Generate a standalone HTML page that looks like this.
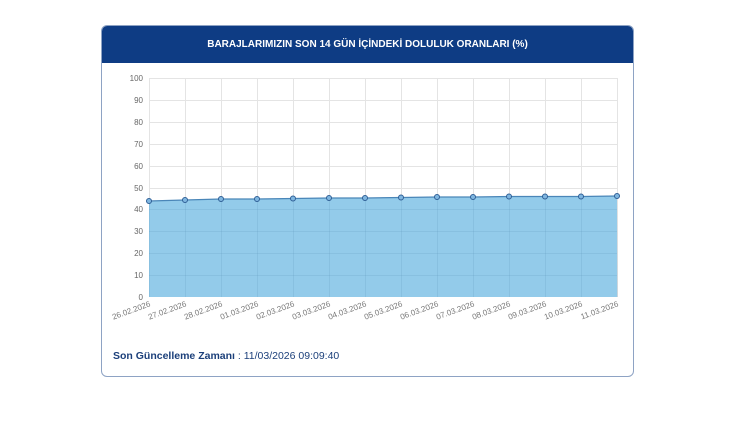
<!DOCTYPE html>
<html><head><meta charset="utf-8"><style>
body{margin:0;width:750px;height:421px;background:#fff;font-family:"Liberation Sans",sans-serif;position:relative;overflow:hidden}
.card{position:absolute;left:101px;top:25px;width:531px;height:350px;border:1px solid #8ea3c4;border-radius:6px;overflow:hidden}
.hdr{background:#0e3c84;height:37px;color:#fff;font-size:10px;font-weight:bold;text-align:center;line-height:37px}
.foot{position:absolute;left:113px;top:350px;font-size:10.5px;color:#1b3f7a}
</style></head><body>
<div class="card"><div class="hdr">BARAJLARIMIZIN SON 14 GÜN İÇİNDEKİ DOLULUK ORANLARI (%)</div></div>
<svg style="position:absolute;left:0;top:0" width="750" height="421" font-family="Liberation Sans,sans-serif">
<defs><g id="grid">
<line x1="149" x2="617" y1="78.5" y2="78.5"/><line x1="149" x2="617" y1="100.5" y2="100.5"/><line x1="149" x2="617" y1="122.5" y2="122.5"/><line x1="149" x2="617" y1="144.5" y2="144.5"/><line x1="149" x2="617" y1="166.5" y2="166.5"/><line x1="149" x2="617" y1="188.5" y2="188.5"/><line x1="149" x2="617" y1="209.5" y2="209.5"/><line x1="149" x2="617" y1="231.5" y2="231.5"/><line x1="149" x2="617" y1="253.5" y2="253.5"/><line x1="149" x2="617" y1="275.5" y2="275.5"/>
<line x1="149.5" x2="149.5" y1="78" y2="297"/><line x1="185.5" x2="185.5" y1="78" y2="297"/><line x1="221.5" x2="221.5" y1="78" y2="297"/><line x1="257.5" x2="257.5" y1="78" y2="297"/><line x1="293.5" x2="293.5" y1="78" y2="297"/><line x1="329.5" x2="329.5" y1="78" y2="297"/><line x1="365.5" x2="365.5" y1="78" y2="297"/><line x1="401.5" x2="401.5" y1="78" y2="297"/><line x1="437.5" x2="437.5" y1="78" y2="297"/><line x1="473.5" x2="473.5" y1="78" y2="297"/><line x1="509.5" x2="509.5" y1="78" y2="297"/><line x1="545.5" x2="545.5" y1="78" y2="297"/><line x1="581.5" x2="581.5" y1="78" y2="297"/><line x1="617.5" x2="617.5" y1="78" y2="297"/>
</g>
<clipPath id="fc"><polygon points="149,201 185,200 221,199 257,199 293,198.5 329,198 365,198 401,197.5 437,197 473,197 509,196.5 545,196.5 581,196.5 617,196 618,297 149,297"/></clipPath></defs>
<use href="#grid" stroke="#e4e4e4" stroke-width="1"/>
<polygon fill="#93cbea" points="149,201 185,200 221,199 257,199 293,198.5 329,198 365,198 401,197.5 437,197 473,197 509,196.5 545,196.5 581,196.5 617,196 617,297 149,297"/>
<use href="#grid" stroke="#5a8fb8" stroke-opacity="0.18" stroke-width="1" clip-path="url(#fc)"/>
<polyline fill="none" stroke="#4a86b8" stroke-width="1.2" points="149,201 185,200 221,199 257,199 293,198.5 329,198 365,198 401,197.5 437,197 473,197 509,196.5 545,196.5 581,196.5 617,196"/>
<g fill="#7fb6e0" stroke="#2f5f96" stroke-width="1">
<circle cx="149" cy="201" r="2.5"/><circle cx="185" cy="200" r="2.5"/><circle cx="221" cy="199" r="2.5"/><circle cx="257" cy="199" r="2.5"/><circle cx="293" cy="198.5" r="2.5"/><circle cx="329" cy="198" r="2.5"/><circle cx="365" cy="198" r="2.5"/><circle cx="401" cy="197.5" r="2.5"/><circle cx="437" cy="197" r="2.5"/><circle cx="473" cy="197" r="2.5"/><circle cx="509" cy="196.5" r="2.5"/><circle cx="545" cy="196.5" r="2.5"/><circle cx="581" cy="196.5" r="2.5"/><circle cx="617" cy="196" r="2.5"/>
</g>
<g font-size="8" fill="#666" text-anchor="end">
<text x="143" y="81">100</text><text x="143" y="103">90</text><text x="143" y="125">80</text><text x="143" y="147">70</text><text x="143" y="169">60</text><text x="143" y="191">50</text><text x="143" y="212">40</text><text x="143" y="234">30</text><text x="143" y="256">20</text><text x="143" y="278">10</text><text x="143" y="300">0</text>
</g>
<g font-size="8" fill="#777" text-anchor="end">
<text transform="translate(151,306) rotate(-20)">26.02.2026</text>
<text transform="translate(187,306) rotate(-20)">27.02.2026</text>
<text transform="translate(223,306) rotate(-20)">28.02.2026</text>
<text transform="translate(259,306) rotate(-20)">01.03.2026</text>
<text transform="translate(295,306) rotate(-20)">02.03.2026</text>
<text transform="translate(331,306) rotate(-20)">03.03.2026</text>
<text transform="translate(367,306) rotate(-20)">04.03.2026</text>
<text transform="translate(403,306) rotate(-20)">05.03.2026</text>
<text transform="translate(439,306) rotate(-20)">06.03.2026</text>
<text transform="translate(475,306) rotate(-20)">07.03.2026</text>
<text transform="translate(511,306) rotate(-20)">08.03.2026</text>
<text transform="translate(547,306) rotate(-20)">09.03.2026</text>
<text transform="translate(583,306) rotate(-20)">10.03.2026</text>
<text transform="translate(619,306) rotate(-20)">11.03.2026</text>
</g>
</svg>
<div class="foot"><b>Son Güncelleme Zamanı</b> : 11/03/2026 09:09:40</div>
</body></html>
